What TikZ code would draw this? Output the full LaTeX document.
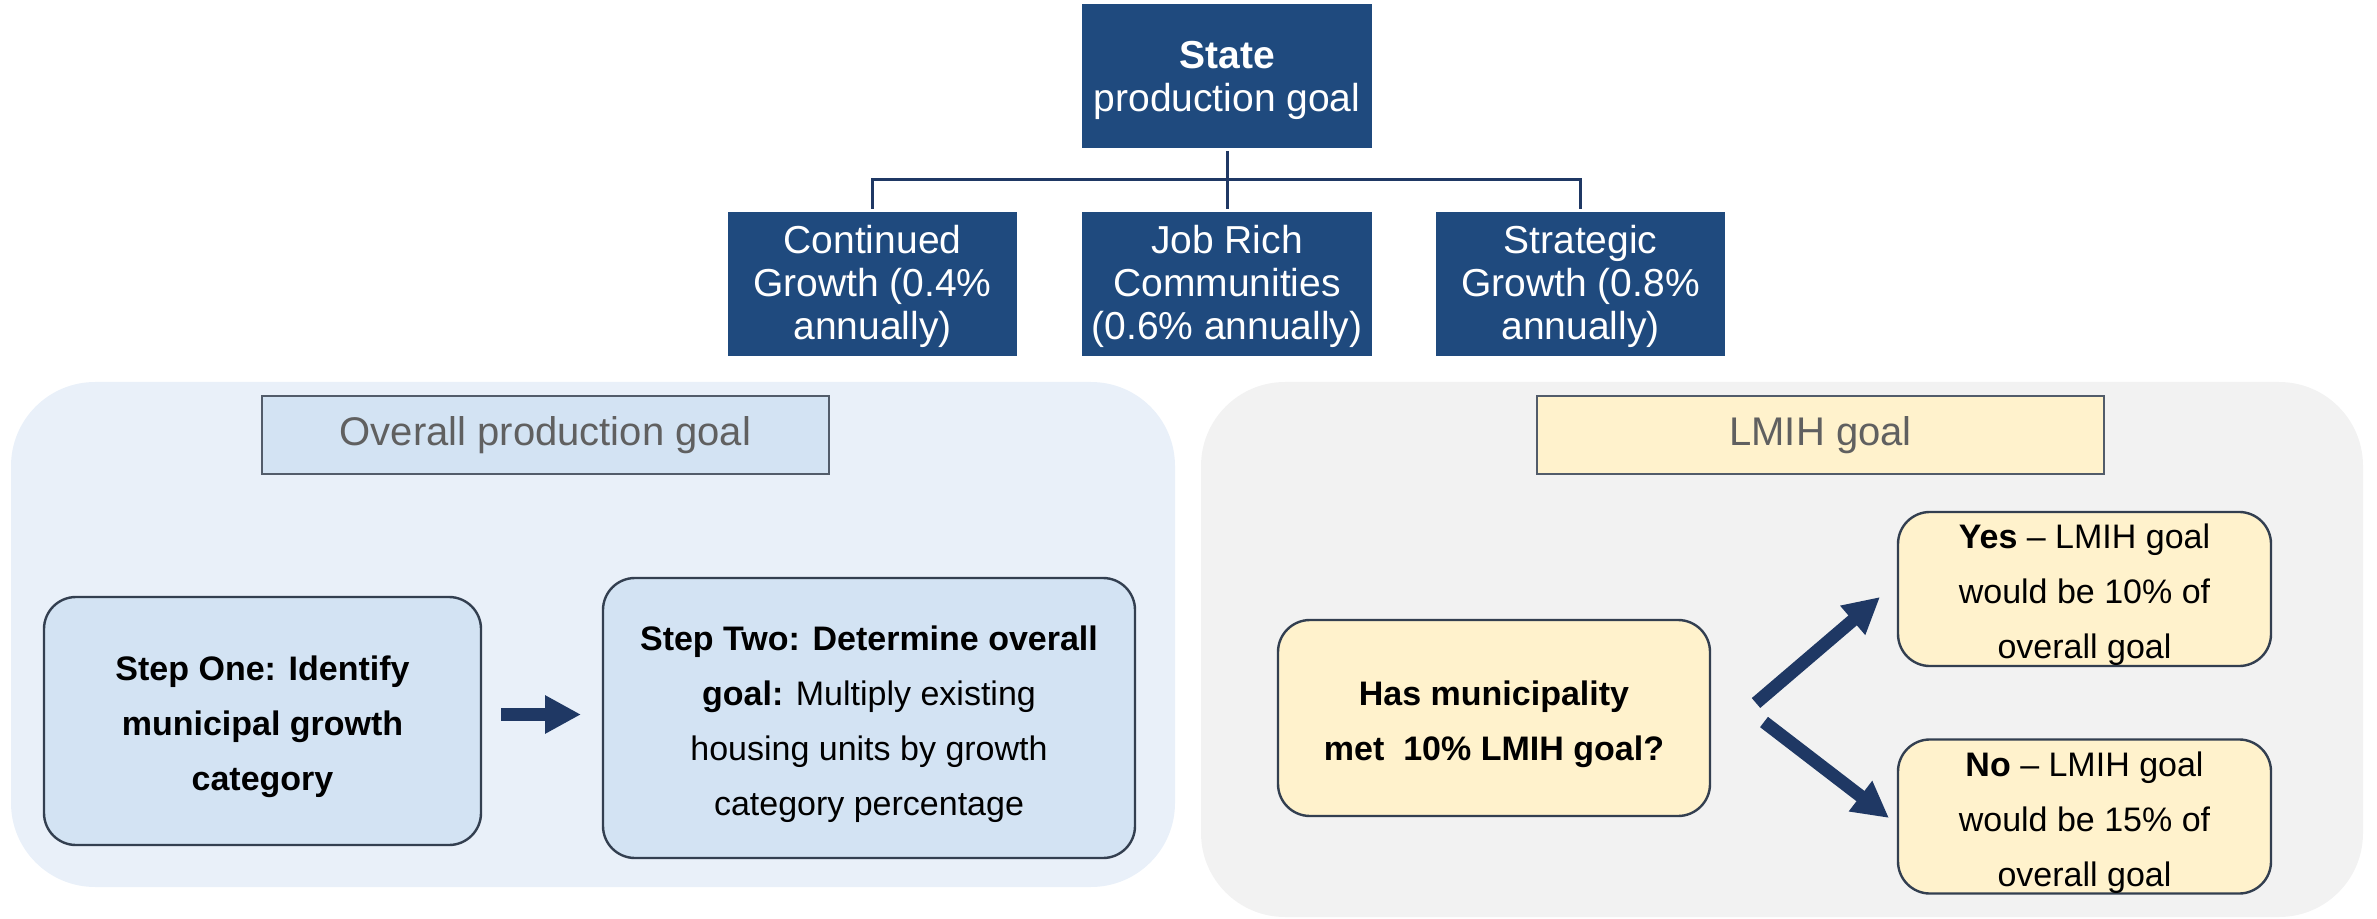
\documentclass[tikz,border=0pt]{standalone}
\usepackage{fontspec}
\setmainfont{Liberation Sans}
\usetikzlibrary{arrows.meta,calc}
\definecolor{navybox}{HTML}{1F4A7E}
\definecolor{navyline}{HTML}{1F3864}
\definecolor{panelblue}{HTML}{E9F0F9}
\definecolor{boxblue}{HTML}{D3E3F3}
\definecolor{panelgray}{HTML}{F2F2F2}
\definecolor{boxyellow}{HTML}{FFF2CC}
\definecolor{edgedark}{HTML}{333F50}
\definecolor{headtext}{HTML}{606060}
% taller first line, so the text block sits a little lower in its box
\newcommand{\firstlinestrut}[1][18.5pt]{\rule{0pt}{#1}}

\begin{document}
\begin{tikzpicture}[x=0.5pt,y=-0.5pt,
  every node/.style={inner sep=0pt,outer sep=0pt,align=center},
  topbox/.style={fill=navybox,text=white,minimum width=145pt,minimum height=72pt,
    font=\fontsize{19.5pt}{21.5pt}\selectfont},
  panel/.style={rounded corners=42pt},
  headbox/.style={draw=edgedark!85,line width=1pt,minimum width=283.5pt,minimum height=39pt,
    text=headtext,font=\fontsize{20pt}{24pt}\selectfont},
  stepbox/.style={draw=edgedark,line width=1.2pt,rounded corners=16pt,
    font=\fontsize{17pt}{27.5pt}\selectfont},
  treeline/.style={draw=navyline,line width=1.5pt},
  blockarrow/.style={draw=navyline,line width=6.5pt,-{Triangle[length=18pt,width=18pt]}}
]
\useasboundingbox (0,0) rectangle (2377,919);

% background panels
\node[panel,fill=panelblue,minimum width=582pt,minimum height=252.5pt] (leftpanel) at (593,634.5) {};
\node[panel,fill=panelgray,minimum width=581pt,minimum height=267.5pt] (rightpanel) at (1782,649.5) {};

% growth categories tree
\node[topbox] (state) at (1227,76) {\firstlinestrut[18.5pt]\textbf{State}\\production goal};
\node[topbox,minimum width=144.5pt] (cg) at (872.5,284) {\firstlinestrut[17pt]Continued\\Growth (0.4\%\\annually)};
\node[topbox] (jr) at (1227,284) {\firstlinestrut[17pt]Job Rich\\Communities\\(0.6\% annually)};
\node[topbox,minimum width=144.5pt] (sg) at (1580.5,284) {\firstlinestrut[17pt]Strategic\\Growth (0.8\%\\annually)};

\coordinate (bar) at (0,180);
\draw[treeline] ([yshift=-1.5pt]state.south) -- (state.south |- bar);
\draw[treeline] ([yshift=1.5pt]cg.north) -- (cg.north |- bar) -- (sg.north |- bar) -- ([yshift=1.5pt]sg.north);
\draw[treeline] ([yshift=1.5pt]jr.north) -- (jr.north |- bar);

% section headers
\node[headbox,fill=boxblue] (ovh) at (545.5,435) {Overall production goal};
\node[headbox,fill=boxyellow] (lmh) at (1820.5,435) {LMIH goal};

% overall production goal steps
\node[stepbox,fill=boxblue,minimum width=218.5pt,minimum height=124pt] (s1) at (262.5,721)
  {\firstlinestrut\textbf{Step One: Identify}\\\textbf{municipal growth}\\\textbf{category}};
\node[stepbox,fill=boxblue,minimum width=266pt,minimum height=140pt] (s2) at (869,718)
  {\firstlinestrut\textbf{Step Two: Determine overall}\\\textbf{goal:} Multiply existing\\housing units by growth\\category percentage};

% LMIH decision
\node[stepbox,fill=boxyellow,minimum width=216pt,minimum height=98pt] (has) at (1494,718)
  {\firstlinestrut\textbf{Has municipality}\\\textbf{met\ \ 10\% LMIH goal?}};
\node[stepbox,fill=boxyellow,minimum width=186.5pt,minimum height=74pt] (yes) at (2084.5,589)
  {\firstlinestrut\textbf{Yes} \textendash{} LMIH goal\\would be 10\% of\\overall goal};
\node[stepbox,fill=boxyellow,minimum width=186.5pt,minimum height=74.5pt] (no) at (2084.5,816.5)
  {\firstlinestrut\textbf{No} \textendash{} LMIH goal\\would be 15\% of\\overall goal};

% arrows
\draw[blockarrow] ($(s1.east)+(20,-6.5)$) -- ($(s2.west)+(-22,-3.5)$);
\draw[blockarrow] ($(has.east)+(46,-15)$) -- ($(yes.west)+(-18,8)$);
\draw[blockarrow] ($(has.east)+(54,4)$) -- ($(no.west)+(-9,1.5)$);
\end{tikzpicture}
\end{document}
